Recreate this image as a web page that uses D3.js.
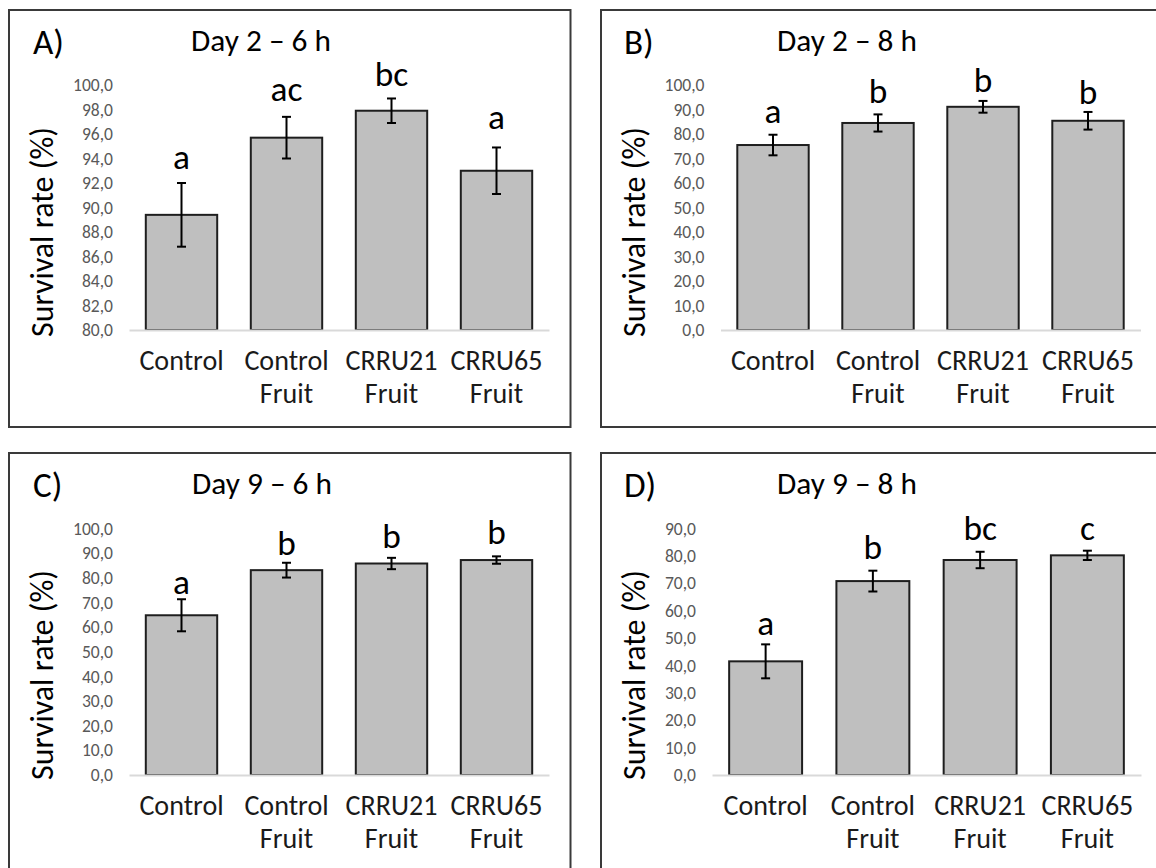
<!DOCTYPE html>
<html>
<head>
<meta charset="utf-8">
<script src="https://cdn.jsdelivr.net/npm/d3@7"></script>
<style>
  body { margin: 0; background: #ffffff; }
  svg text { font-family: Calibri, Carlito, Lato, "Open Sans", sans-serif; }
</style>
</head>
<body>
<svg id="fig" width="1156" height="868"></svg>
<script>
// ---- data -------------------------------------------------------------
const categories = [["Control"], ["Control", "Fruit"], ["CRRU21", "Fruit"], ["CRRU65", "Fruit"]];
const panelTags   = ["A)", "B)", "C)", "D)"];
const panelTitles = ["Day 2 \u2013 6 h", "Day 2 \u2013 8 h", "Day 9 \u2013 6 h", "Day 9 \u2013 8 h"];

// mean survival rate (%) and error (±)
const meansA = [89.4, 95.7, 97.9, 93.0];
const errA   = [2.6, 1.7, 1.0, 1.9];
const lettersA = ["a", "ac", "bc", "a"];

const meansB = [75.5, 84.5, 91.1, 85.4];
const errB   = [4.2, 3.5, 2.4, 3.6];
const lettersB = ["a", "b", "b", "b"];

const meansC = [64.8, 83.1, 85.8, 87.2];
const errC   = [6.5, 3.0, 2.3, 1.5];
const lettersC = ["a", "b", "b", "b"];

const meansD = [41.5, 70.8, 78.5, 80.2];
const errD   = [6.2, 3.8, 3.0, 1.7];
const lettersD = ["a", "b", "bc", "c"];

// y-axis tick values per panel
const ticksA = [80, 82, 84, 86, 88, 90, 92, 94, 96, 98, 100];
const ticksB = [0, 10, 20, 30, 40, 50, 60, 70, 80, 90, 100];
const ticksC = [0, 10, 20, 30, 40, 50, 60, 70, 80, 90, 100];
const ticksD = [0, 10, 20, 30, 40, 50, 60, 70, 80, 90];

// ---- layout -----------------------------------------------------------
const layout = [
  { box: [9, 10], xr: [129, 549],   y: [330, 85],    dom: [80, 100], tagX: 24, titleX: 182, letterGap: [14, 16, 12, 18] },
  { box: [601, 10], xr: [720.5, 1140.5], y: [330, 85], dom: [0, 100], tagX: 23, titleX: 176, letterGap: [12, 11, 9, 8] },
  { box: [9, 453], xr: [129, 549],  y: [775, 528.5], dom: [0, 100], tagX: 24, titleX: 183, letterGap: [5, 8, 10, 12] },
  { box: [601, 453], xr: [712, 1141], y: [775, 528.5], dom: [0, 90], tagX: 23, titleX: 176, letterGap: [9, 12, 12, 11] }
];
const series = [
  { means: meansA, errs: errA, letters: lettersA, ticks: ticksA },
  { means: meansB, errs: errB, letters: lettersB, ticks: ticksB },
  { means: meansC, errs: errC, letters: lettersC, ticks: ticksC },
  { means: meansD, errs: errD, letters: lettersD, ticks: ticksD }
];

const svg = d3.select("#fig");
const fmt = d3.formatLocale({ decimal: ",", thousands: ".", grouping: [3], currency: ["", ""] }).format(".1f");

// pick a font size so that a sample string renders at a given width
function fitSize(sample, width) {
  const t = svg.append("text").style("font-size", "100px").text(sample);
  const w = t.node().getComputedTextLength();
  t.remove();
  return 100 * width / w;
}
const fsTag    = fitSize("A)", 31);
const fsTitle  = fitSize("Day 2 \u2013 6 h", 140);
const fsYTitle = fitSize("Survival rate (%)", 210);
const fsTick   = fitSize("100,0", 40);
const fsCat    = fitSize("CRRU65", 92);
const fsLetter = fitSize("bc", 33.5);

layout.forEach((L, p) => {
  const S = series[p];
  const [bx, by] = L.box;

  // panel frame
  svg.append("rect")
    .attr("x", bx).attr("y", by)
    .attr("width", 561.5).attr("height", 417)
    .attr("fill", "none").attr("stroke", "#3a3a3a").attr("stroke-width", 2);

  const g = svg.append("g");

  const x = d3.scaleBand().domain(d3.range(categories.length)).range(L.xr)
    .paddingInner(0.32).paddingOuter(0.16);
  const y = d3.scaleLinear().domain(L.dom).range(L.y);

  // panel tag and title
  g.append("text").attr("x", bx + L.tagX).attr("y", by + 44)
    .style("font-size", fsTag + "px").attr("fill", "#000").text(panelTags[p]);
  g.append("text").attr("x", bx + L.titleX).attr("y", by + 41)
    .style("font-size", fsTitle + "px").attr("fill", "#000").text(panelTitles[p]);

  // y axis title
  const yMid = by + 222;
  g.append("text")
    .attr("transform", `translate(${bx + 44},${yMid}) rotate(-90)`)
    .attr("text-anchor", "middle")
    .style("font-size", fsYTitle + "px").attr("fill", "#000")
    .text("Survival rate (%)");

  // y axis labels (no line, no ticks)
  const ya = g.append("g")
    .attr("transform", `translate(${L.xr[0] - 16},0)`)
    .call(d3.axisLeft(y).tickValues(S.ticks).tickFormat(fmt).tickSize(0).tickPadding(0));
  ya.select(".domain").remove();
  ya.attr("font-family", null);
  ya.selectAll("text").style("font-size", fsTick + "px").attr("fill", "#595959");

  // bars
  g.selectAll("rect.bar").data(S.means).join("rect")
    .attr("class", "bar")
    .attr("x", (d, i) => x(i))
    .attr("width", x.bandwidth())
    .attr("y", d => y(d))
    .attr("height", d => y(L.dom[0]) - y(d))
    .attr("fill", "#bfbfbf")
    .attr("stroke", "#1e1e1e")
    .attr("stroke-width", 2);

  // error bars
  const cap = 4.5;
  const eg = g.append("g").attr("stroke", "#000").attr("stroke-width", 2);
  S.means.forEach((m, i) => {
    const cx = x(i) + x.bandwidth() / 2;
    const yt = y(m + S.errs[i]), yb = y(m - S.errs[i]);
    eg.append("line").attr("x1", cx).attr("x2", cx).attr("y1", yt).attr("y2", yb);
    eg.append("line").attr("x1", cx - cap).attr("x2", cx + cap).attr("y1", yt).attr("y2", yt);
    eg.append("line").attr("x1", cx - cap).attr("x2", cx + cap).attr("y1", yb).attr("y2", yb);
  });

  // significance letters
  g.selectAll("text.sig").data(S.letters).join("text")
    .attr("class", "sig")
    .attr("x", (d, i) => x(i) + x.bandwidth() / 2)
    .attr("y", (d, i) => y(S.means[i] + S.errs[i]) - L.letterGap[i])
    .attr("text-anchor", "middle")
    .style("font-size", fsLetter + "px").attr("fill", "#000")
    .text(d => d);

  // category axis
  const xa = g.append("g")
    .attr("transform", `translate(0,${y(L.dom[0])})`)
    .call(d3.axisBottom(x).tickSize(0).tickSizeOuter(0).tickFormat(""));
  xa.attr("font-family", null);
  xa.select(".domain").attr("stroke", "#d9d9d9").attr("stroke-width", 2);
  xa.selectAll(".tick text").each(function (d) {
    const t = d3.select(this).attr("dy", null).attr("y", null)
      .style("font-size", fsCat + "px").attr("fill", "#1a1a1a");
    categories[d].forEach((ln, j) => {
      t.append("tspan").attr("x", 0).attr("y", 40 + j * 33).text(ln);
    });
  });
});
</script>
</body>
</html>
